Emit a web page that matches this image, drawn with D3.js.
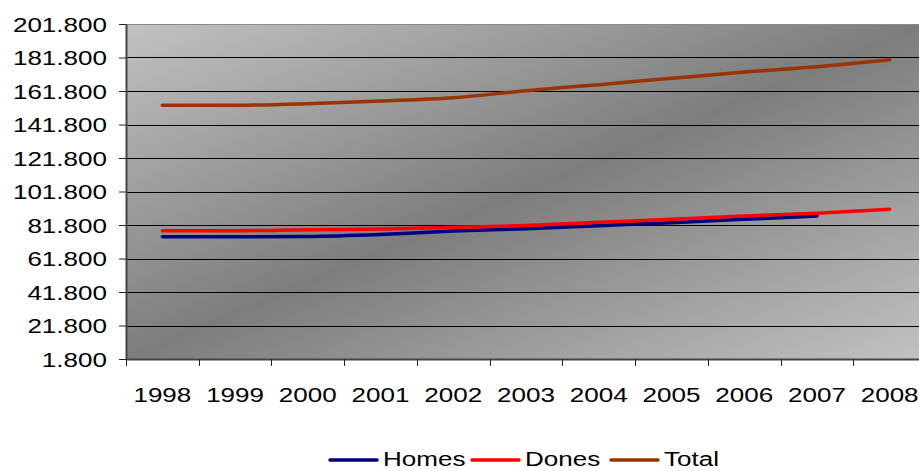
<!DOCTYPE html>
<html lang="ca">
<head>
<meta charset="UTF-8">
<title>Homes, Dones, Total 1998-2008</title>
<script src="https://d3js.org/d3.v7.min.js"></script>
<style>
  body { margin: 0; background: #fff; }
  svg text { font-family: "Liberation Sans", Arial, sans-serif; font-size: 21px; fill: #000; }
</style>
</head>
<body>
<svg id="chart" width="919" height="471"></svg>
<script>
// data
const years = ["1998", "1999", "2000", "2001", "2002", "2003", "2004", "2005", "2006", "2007", "2008"];
const homes = [74800, 74800, 75000, 76200, 78200, 79600, 81400, 83200, 85200, 87200, null];
const dones = [78400, 78400, 79000, 79400, 80400, 81500, 83400, 85200, 87200, 88800, 91200];
const total = [153300, 153300, 154200, 155800, 157800, 162000, 165600, 169400, 173100, 176300, 180500];
const yTicks = [1800, 21800, 41800, 61800, 81800, 101800, 121800, 141800, 161800, 181800, 201800];
const seriesNames = ["Homes", "Dones", "Total"];
const seriesColors = ["#000080", "#ff0000", "#993300"];

const series = [homes, dones, total].map((vals, i) => ({
  name: seriesNames[i],
  color: seriesColors[i],
  values: vals.map((v, j) => ({ year: years[j], value: v }))
}));

// the original picture is stretched horizontally
const stretch = 1.24;
const fmt = d3.formatLocale({ decimal: ",", thousands: ".", grouping: [3], currency: ["", " €"] }).format(",d");

const plot = { left: 126, top: 24, bottom: 359, width: 800 };

const svg = d3.select("#chart");

const x = d3.scaleBand()
  .domain(years)
  .range([plot.left, plot.left + plot.width]);

const y = d3.scaleLinear()
  .domain([yTicks[0], yTicks[yTicks.length - 1]])
  .range([plot.bottom, plot.top]);

// background gradient
const grad = svg.append("defs").append("linearGradient")
  .attr("id", "bg")
  .attr("x1", 0).attr("y1", 0).attr("x2", 1).attr("y2", 1);
grad.append("stop").attr("offset", 0).attr("stop-color", "#c2c2c2");
grad.append("stop").attr("offset", 0.5).attr("stop-color", "#7d7d7d");
grad.append("stop").attr("offset", 1).attr("stop-color", "#c2c2c2");

svg.append("rect")
  .attr("x", plot.left)
  .attr("y", plot.top)
  .attr("width", plot.width)
  .attr("height", plot.bottom - plot.top)
  .attr("fill", "url(#bg)");

// gridlines
svg.append("g")
  .selectAll("line")
  .data(yTicks.slice(1))
  .join("line")
  .attr("x1", plot.left)
  .attr("x2", plot.left + plot.width)
  .attr("y1", d => Math.round(y(d)) + 0.5)
  .attr("y2", d => Math.round(y(d)) + 0.5)
  .attr("stroke", (d, i, n) => i === n.length - 1 ? "#8a8a8a" : "#000")
  .attr("stroke-width", 1);

// y axis
const yAxis = svg.append("g")
  .attr("transform", `translate(${plot.left},0)`)
  .call(d3.axisLeft(y).tickValues(yTicks).tickFormat(fmt).tickSize(7).tickSizeOuter(0));
yAxis.select(".domain").attr("stroke", "#444").attr("stroke-width", 2);
yAxis.selectAll(".tick line").attr("stroke", "#222");
yAxis.selectAll(".tick text")
  .attr("x", 0)
  .attr("dy", "0.35em")
  .attr("transform", `translate(-19,0) scale(${stretch},1)`)
  .attr("font-size", null);

// x axis, ticks between categories
const xAxis = svg.append("g")
  .attr("transform", `translate(0,${plot.bottom})`)
  .call(d3.axisBottom(x).tickSize(0).tickSizeOuter(0));
xAxis.select(".domain").attr("stroke", "#444").attr("stroke-width", 2);
xAxis.selectAll(".tick text")
  .attr("y", 0)
  .attr("dy", 0)
  .attr("transform", `translate(0,43) scale(${stretch},1)`)
  .attr("font-size", null);
xAxis.append("g")
  .selectAll("line")
  .data(years)
  .join("line")
  .attr("x1", d => Math.round(x(d)) + 0.5)
  .attr("x2", d => Math.round(x(d)) + 0.5)
  .attr("y1", 0)
  .attr("y2", 7)
  .attr("stroke", "#222");

svg.selectAll(".tick text").style("font-family", null);
svg.selectAll("g").attr("font-family", null);

// lines
const line = d3.line()
  .defined(d => d.value != null)
  .x(d => x(d.year) + x.bandwidth() / 2)
  .y(d => y(d.value))
  .curve(d3.curveMonotoneX);

svg.append("g")
  .selectAll("path")
  .data(series)
  .join("path")
  .attr("d", d => line(d.values))
  .attr("fill", "none")
  .attr("stroke", d => d.color)
  .attr("stroke-width", 3.5)
  .attr("stroke-linecap", "round")
  .attr("stroke-linejoin", "round");

// legend
const legendX = [330, 472, 611];
const legend = svg.append("g")
  .selectAll("g")
  .data(series)
  .join("g")
  .attr("transform", (d, i) => `translate(${legendX[i]},460)`);
legend.append("line")
  .attr("x1", 0).attr("x2", 47)
  .attr("stroke", d => d.color)
  .attr("stroke-width", 3.5)
  .attr("stroke-linecap", "round");
legend.append("text")
  .attr("transform", `translate(53,6) scale(${stretch},1)`)
  .text(d => d.name);
</script>
</body>
</html>
